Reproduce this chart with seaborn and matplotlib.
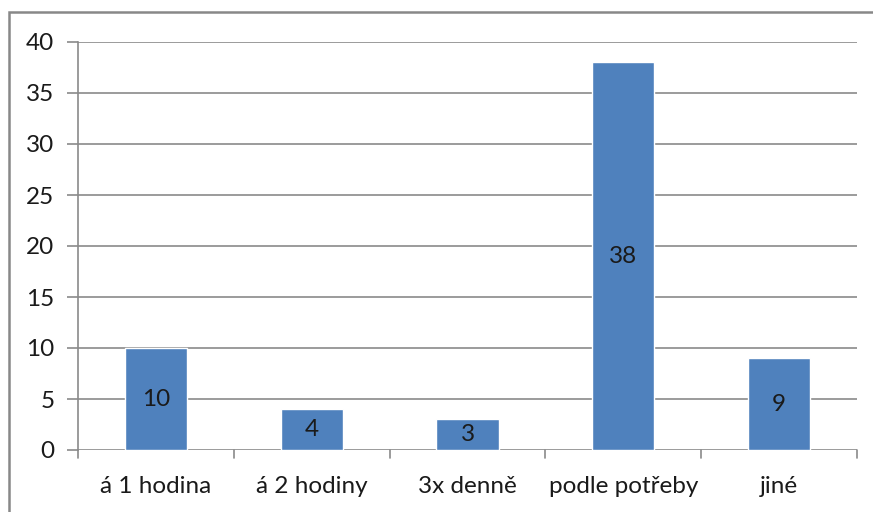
import matplotlib
matplotlib.use("Agg")
import matplotlib.pyplot as plt
import seaborn as sns
import pandas as pd
from matplotlib.patches import Rectangle

categories = ["á 1 hodina", "á 2 hodiny", "3x denně", "podle potřeby", "jiné"]
counts = [10, 4, 3, 38, 9]
y_ticks = [0, 5, 10, 15, 20, 25, 30, 35, 40]

sns.set_style("white")
plt.rcParams["font.family"] = ["Lato", "DejaVu Sans"]

W, H = 873, 512
FS = 17.5
fig = plt.figure(figsize=(W / 100, H / 100), dpi=100)
ax = fig.add_axes([78 / W, 1 - 450 / H, (857 - 78) / W, (450 - 42) / H])

df = pd.DataFrame({"kategorie": categories, "pocet": counts})
sns.barplot(data=df, x="kategorie", y="pocet", color="#4F81BD", saturation=1,
            width=0.4, ax=ax, zorder=3)

ax.set_xlim(-0.5, len(categories) - 0.5)
ax.set_ylim(0, 40)
ax.set_yticks(y_ticks)
ax.set_yticklabels([str(t) for t in y_ticks], fontsize=FS, color="#1a1a1a")
ax.set_xlabel("")
ax.set_ylabel("")

# gridlines
for t in y_ticks:
    ax.axhline(t, color="#8a8a8a", lw=1.2, zorder=1)

# category boundary ticks on x axis
ax.set_xticks(range(len(categories)))
ax.set_xticklabels(categories, fontsize=FS, color="#1a1a1a")
ax.tick_params(axis="x", length=0, pad=19)
ax.tick_params(axis="y", length=8, color="#8a8a8a", width=1.2, left=True, pad=9)
for b in range(len(categories) + 1):
    ax.plot([b - 0.5, b - 0.5], [0, -0.75], color="#8a8a8a", lw=1.2,
            clip_on=False, zorder=2)

for s in ["top", "right", "bottom"]:
    ax.spines[s].set_visible(False)
ax.spines["left"].set_color("#8a8a8a")
ax.spines["left"].set_linewidth(1.2)

# value labels in the middle of each bar
for i, v in enumerate(counts):
    ax.text(i, v / 2, str(v), ha="center", va="center", fontsize=FS,
            color="#1a1a1a", zorder=4)

# outer frame of the chart area
fig.patches.append(Rectangle((9 / W, -0.1), 1.2, 1.1 - 12 / H,
                             transform=fig.transFigure, fill=False,
                             edgecolor="#888888", lw=1.8))

fig.savefig("out.png", dpi=100)
